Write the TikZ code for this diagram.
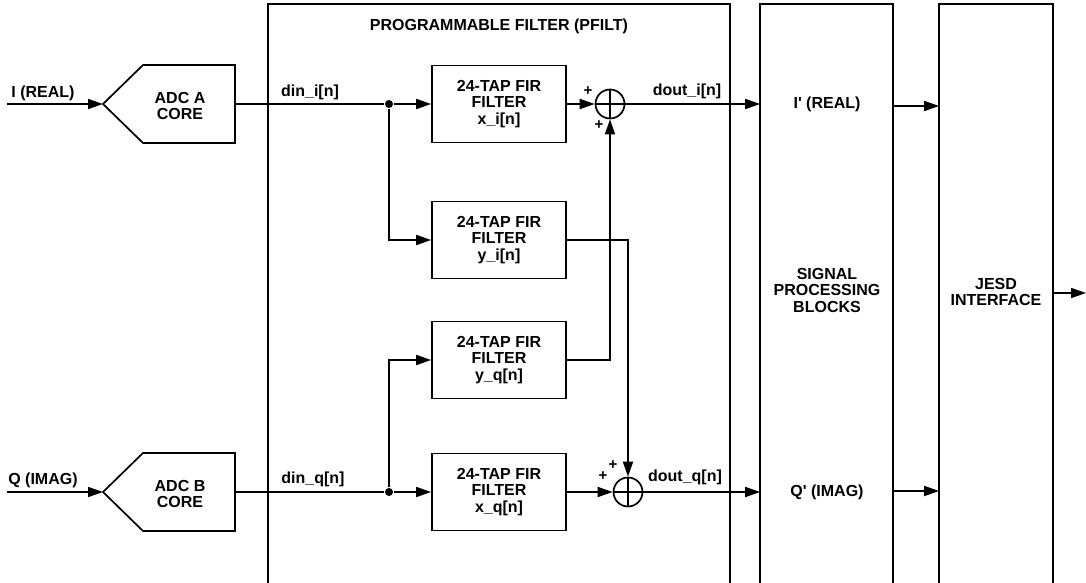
\documentclass[tikz,border=0pt]{standalone}
\usepackage{fontspec}
\setmainfont{Liberation Sans}
\newfontfamily\nomapfont{Liberation Sans}
\usetikzlibrary{arrows.meta}
\begin{document}
\begin{tikzpicture}[x=1pt,y=-1pt, line width=1.7pt,
  lbl/.style={font=\fontsize{16}{16.5}\selectfont\bfseries, inner sep=0pt, align=center},
  fir/.style={draw, minimum width=134pt, minimum height=77pt, inner sep=0pt, lbl},
  blk/.style={draw=none, inner sep=0pt},
  sumnode/.style={draw, circle, minimum size=29pt, inner sep=0pt},
  arr/.style={-{Triangle[length=15pt,width=10pt]}},
  plus/.style={font=\fontsize{15}{15}\selectfont\bfseries, inner sep=0pt},
  jdot/.style={circle, fill, inner sep=0pt, minimum size=8pt}]
\useasboundingbox (0,0) rectangle (1086,583);

% big open-bottom blocks
\node[blk, minimum width=460pt, minimum height=578pt] (pfilt) at (499,294) {};
\node[blk, minimum width=131pt, minimum height=578pt] (sp) at (826.5,294) {};
\node[blk, minimum width=112pt, minimum height=578pt] (jesd) at (996,294) {};
\draw (pfilt.south west) |- (pfilt.north east) -- (pfilt.south east);
\draw (sp.south west) |- (sp.north east) -- (sp.south east);
\draw (jesd.south west) |- (jesd.north east) -- (jesd.south east);
\node[lbl] (pftitle) at (499,26) {PROGRAMMABLE FILTER (PFILT)};
\node[lbl] (sptext) at (827,290) {SIGNAL\\PROCESSING\\BLOCKS};
\node[lbl] (jesdtext) at (996,292) {JESD\\INTERFACE};
\node[lbl] (ipr) at (827,104) {I{\nomapfont\bfseries '} (REAL)};
\node[lbl] (qpr) at (827,492) {Q{\nomapfont\bfseries '} (IMAG)};

% ADC A
\coordinate (adcAtip) at (103,104);
\coordinate (adcAnw) at (143,65);
\coordinate (adcAne) at (235,65);
\coordinate (adcAse) at (235,143);
\coordinate (adcAsw) at (143,143);
\coordinate (adcAe) at (235,104);
\draw[line join=miter] (adcAtip) -- (adcAnw) -- (adcAne) -- (adcAse) -- (adcAsw) -- cycle;
\node[lbl] (adcA) at (180,106) {ADC A\\CORE};
% ADC B
\coordinate (adcBtip) at (103,492);
\coordinate (adcBnw) at (143,453);
\coordinate (adcBne) at (235,453);
\coordinate (adcBse) at (235,531);
\coordinate (adcBsw) at (143,531);
\coordinate (adcBe) at (235,492);
\draw[line join=miter] (adcBtip) -- (adcBnw) -- (adcBne) -- (adcBse) -- (adcBsw) -- cycle;
\node[lbl] (adcB) at (180,494) {ADC B\\CORE};

% inputs
\coordinate (iin) at (7,104);
\coordinate (qin) at (7,492);
\draw[arr] (iin) -- (adcAtip);
\draw[arr] (qin) -- (adcBtip);
\node[lbl] (ilbl) at (43,93) {I (REAL)};
\node[lbl] (qlbl) at (43,480) {Q (IMAG)};

% FIR filters
\node[fir] (xi) at (499,104) {24-TAP FIR\\FILTER\\x\_i[n]};
\node[fir] (yi) at (499,240) {24-TAP FIR\\FILTER\\y\_i[n]};
\node[fir] (yq) at (499,360) {24-TAP FIR\\FILTER\\y\_q[n]};
\node[fir] (xq) at (499,492) {24-TAP FIR\\FILTER\\x\_q[n]};

% junctions
\node[jdot] (dotI) at (389,104) {};
\node[jdot] (dotQ) at (389,492) {};
\node[lbl] (dinI) at (310,92) {din\_i[n]};
\node[lbl] (dinQ) at (313,479) {din\_q[n]};

\draw (adcAe) -- (dotI);
\draw (adcBe) -- (dotQ);
\draw[arr] (dotI) -- (xi.west);
\draw[arr] (dotI) |- (yi.west);
\draw[arr] (dotQ) |- (yq.west);
\draw[arr] (dotQ) -- (xq.west);

% adders
\node[sumnode] (sumI) at (610,104) {};
\node[sumnode] (sumQ) at (628,492) {};
\draw (sumI.north) -- (sumI.south) (sumI.west) -- (sumI.east);
\draw (sumQ.north) -- (sumQ.south) (sumQ.west) -- (sumQ.east);
\node[plus] (pI1) at (588,91) {+};
\node[plus] (pI2) at (599,125) {+};
\node[plus] (pQ1) at (603,476) {+};
\node[plus] (pQ2) at (613,465) {+};

\draw[arr] (xi.east) -- (sumI.west);
\draw[arr] (yq.east) -| (sumI.south);
\draw[arr] (yi.east) -| (sumQ.north);
\draw[arr] (xq.east) -- (sumQ.west);

% outputs of PFILT
\draw[arr] (sumI.east) -- (sumI.east -| sp.west);
\draw[arr] (sumQ.east) -- (sumQ.east -| sp.west);
\node[lbl] (doutI) at (687,91) {dout\_i[n]};
\node[lbl] (doutQ) at (685,477) {dout\_q[n]};

% SP to JESD
\coordinate (rowI) at (0,106);
\coordinate (rowQ) at (0,491);
\draw[arr] (rowI -| sp.east) -- (rowI -| jesd.west);
\draw[arr] (rowQ -| sp.east) -- (rowQ -| jesd.west);

% JESD output
\coordinate (out) at (1086,293);
\draw[arr] (out -| jesd.east) -- (out);
\end{tikzpicture}
\end{document}
